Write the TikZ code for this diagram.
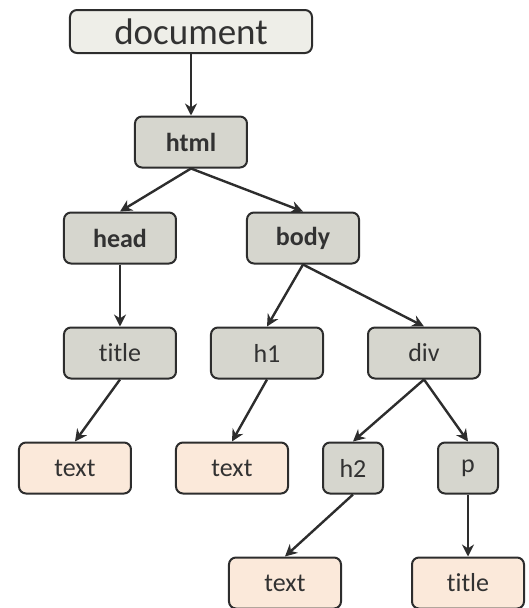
\documentclass[tikz,border=0pt]{standalone}
\usepackage{fontspec}
\setmainfont[Ligatures=NoCommon]{Carlito}
\usepackage{tikz}
\usetikzlibrary{shapes.geometric, arrows.meta}
\definecolor{docgrey}{RGB}{238,238,232}
\definecolor{nodegrey}{RGB}{214,214,206}
\definecolor{textpeach}{RGB}{251,233,218}
\definecolor{edgegrey}{RGB}{45,45,45}
\definecolor{fontgrey}{RGB}{50,50,50}
\tikzstyle{root} = [rectangle, rounded corners=7pt, minimum width=242pt, minimum height=43pt, text centered, draw=edgegrey, line width=2pt, fill=docgrey, text=fontgrey, font=\fontsize{37}{40}\selectfont]
\tikzstyle{element} = [rectangle, rounded corners=7pt, minimum width=112pt, minimum height=51pt, text centered, draw=edgegrey, line width=2pt, fill=nodegrey, text=fontgrey, font=\fontsize{26}{30}\selectfont]
\tikzstyle{smallelement} = [element, minimum width=60pt]
\tikzstyle{textnode} = [element, fill=textpeach]
\tikzstyle{arrow} = [line width=2.4pt, draw=edgegrey, -{Stealth[length=12pt,width=12pt]}]

\begin{document}
\begin{tikzpicture}[node distance=115pt]
	\useasboundingbox (-191pt,31.5pt) rectangle (338pt,-576.5pt);
	\node (doc) [root] {document};
	\node (html) [element, below of=doc, yshift=4.5pt, font=\fontsize{26}{30}\selectfont\bfseries] {html};
	\node (head) [element, below of=html, yshift=19pt, xshift=-71pt, font=\fontsize{26}{30}\selectfont\bfseries] {head};
	\node (body) [element, below of=html, yshift=19pt, xshift=112pt, font=\fontsize{26}{30}\selectfont\bfseries] {body};
	\node (title) [element, below of=head] {title};
	\node (h1) [element, below of=body, xshift=-36pt] {h1};
	\node (div) [element, below of=body, xshift=121pt] {div};
	\node (text1) [textnode, below of=title, xshift=-45pt] {text};
	\node (text2) [textnode, below of=h1, xshift=-35pt] {text};
	\node (h2) [smallelement, below of=div, xshift=-71pt] {h2};
	\node (p) [smallelement, below of=div, xshift=44pt] {p};
	\node (text3) [textnode, below of=h2, xshift=-68pt] {text};
	\node (title2) [textnode, below of=p] {title};
	%lines
	\draw [arrow] (doc.south) -- (html.north);
	\draw [arrow] (html.south) -- (head.north);
	\draw [arrow] (html.south) -- (body.north);
	\draw [arrow] (head.south) -- (title.north);
	\draw [arrow] (body.south) -- (h1.north);
	\draw [arrow] (body.south) -- (div.north);
	\draw [arrow] (title.south) -- (text1.north);
	\draw [arrow] (h1.south) -- (text2.north);
	\draw [arrow] (div.south) -- (h2.north);
	\draw [arrow] (div.south) -- (p.north);
	\draw [arrow] (h2.south) -- (text3.north);
	\draw [arrow] (p.south) -- (title2.north);
\end{tikzpicture}
\end{document}
